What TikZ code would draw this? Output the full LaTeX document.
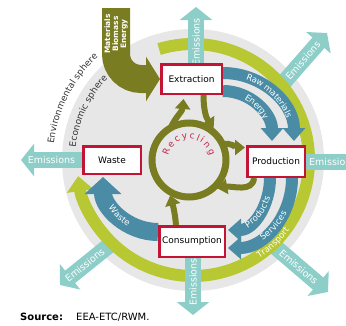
\documentclass[tikz,border=0pt]{standalone}
\usepackage{fontspec}
\setmainfont{DejaVu Sans}
\usetikzlibrary{arrows.meta,calc,backgrounds,decorations.text}

\definecolor{spheregrey}{RGB}{231,231,231}
\definecolor{ringlime}{RGB}{184,200,50}
\definecolor{recycleolive}{RGB}{122,124,34}
\definecolor{flowblue}{RGB}{74,140,166}
\definecolor{emissionteal}{RGB}{142,206,201}
\definecolor{stagered}{RGB}{196,20,54}
\definecolor{recyclered}{RGB}{196,40,72}

\newcommand{\bandfont}{\color{white}\fontsize{8.5}{9}\selectfont}
\newcommand{\spherefont}{\color{black!80}\fontsize{9}{10}\selectfont}
\newcommand{\recyclefont}{\color{recyclered}\fontsize{9}{10}\selectfont}

\tikzset{
  stage/.style={draw=stagered, line width=2.5pt, fill=white, inner sep=0pt,
    font=\fontsize{9}{10}\selectfont},
  emission/.style={draw=emissionteal, line width=16pt,
    -{Triangle[width=32pt,length=13pt]}},
  emlabel/.style={text=white, inner sep=0pt, font=\fontsize{9.5}{10}\selectfont},
  flow/.style={draw=flowblue, line width=12pt,
    -{Triangle[width=22pt,length=13pt]}},
  wasteflow/.style={flow, line width=18pt,
    -{Triangle[width=36pt,length=17pt]}},
  recycle/.style={draw=recycleolive, line width=6pt,
    -{Triangle[width=15pt,length=10pt]}},
  inflow/.style={draw=recycleolive, line width=28pt, rounded corners=25pt,
    -{Triangle[width=44pt,length=14pt]}},
  transport/.style={draw=ringlime, line width=12pt,
    -{Triangle[width=26pt,length=15pt]}},
  bandlabel/.style={decorate, decoration={text along path, text align=center,
    raise=-3pt, text={|\bandfont|#1}}},
  spherelabel/.style={decorate, decoration={text along path, text align=center,
    text={|\spherefont|#1}}},
}

\begin{document}
\begin{tikzpicture}[x=1pt, y=1pt]

  \useasboundingbox (0,0) rectangle (346,325);

  % Centres
  \coordinate (hub) at (193,165);
  \coordinate (rec) at (189,165);

  % Stages
  \node[stage, minimum width=60.5pt, minimum height=29.5pt] (extraction)  at (191.5,246) {Extraction};
  \node[stage, minimum width=57.5pt, minimum height=30.5pt] (production)  at (276,163.5) {Production};
  \node[stage, minimum width=65.5pt, minimum height=30.5pt] (consumption) at (192,83.5)  {Consumption};
  \node[stage, minimum width=57.5pt, minimum height=27.5pt] (waste)       at (112,165)   {Waste};

  % Free ends
  \coordinate (em-n)   at (196,318);
  \coordinate (em-ne)  at (327,292);
  \coordinate (em-e)   at (365,163.5);
  \coordinate (em-se)  at (328,33);
  \coordinate (em-s)   at (193,10);
  \coordinate (em-sw)  at (60,40);
  \coordinate (em-w)   at (21,165);
  \coordinate (in-top) at (116,317);

  \begin{scope}[on background layer]
    % Spheres
    \fill[spheregrey] (hub) circle[radius=131];

    % Emissions leaving the ring
    \draw[emission] ($(hub)+(40:112)$) -- node[emlabel, sloped] {Emissions} (em-ne); %
    \draw[emission] ($(hub)+(-47:112)$) -- node[emlabel, sloped] {Emissions} (em-se); %
    \draw[emission] ($(hub)+(-134:112)$) -- node[emlabel, sloped, pos=0.55] {Emissions} (em-sw); %

    % Transport ring
    \draw[transport] ($(hub)+(107:116)$) arc[start angle=107, end angle=-172, radius=116];
    \path[bandlabel=Transport] ($(hub)+(-62:116)$) arc[start angle=-62, end angle=-30, radius=116];

    % Emissions leaving the stages
    \draw[emission] (extraction.north -| em-n) -- node[emlabel, rotate=90, pos=0.38] {Emissions} (em-n); %
    \draw[emission] (consumption.south -| em-s) -- node[emlabel, rotate=90, pos=0.42] {Emissions} (em-s); %
    \draw[emission] (waste.west) -- node[emlabel, pos=0.5] {Emissions} (em-w); %
    \draw[emission] (production.east) -- (em-e); %
    \node[emlabel, anchor=west] at ($(production.east)+(3,0)$) {Emissions};

    % Input
    \draw[inflow] (in-top) |- (extraction.west);
    \node[text=white, rotate=90, align=center, inner sep=0pt,
      font=\fontsize{7.5}{8}\selectfont\bfseries] at (116,291)
      {Materials\\Biomass\\Energy};

    % Flows between stages
    \draw[flow] ([yshift=6pt]extraction.east) to[out=0, in=90] ($(production.north)+(18,4)$); %
    \draw[flow] ([yshift=-12pt]extraction.east) to[out=0, in=90] ($(production.north)+(-4,4)$); %
    \draw[flow] ($(production.south)+(-6,0)$) to[out=-90, in=0] ($(consumption.east)+(2,11.5)$); %
    \draw[flow] ($(production.south)+(16,0)$) to[out=-90, in=0] ($(consumption.east)+(2,-6.5)$); %
    \draw[wasteflow] ($(consumption.west)+(0,9.5)$) to[out=180, in=-90] ($(waste.south)+(-9,-2)$); %

    \path[bandlabel=Raw materials] ([yshift=6pt]extraction.east) to[out=0, in=90] ($(production.north)+(18,4)$);
    \path[bandlabel=Energy] ([yshift=-12pt]extraction.east) to[out=0, in=90] ($(production.north)+(-4,4)$);
    \path[bandlabel=Products] ($(consumption.east)+(2,11.5)$) to[out=0, in=-90] ($(production.south)+(-6,0)$);
    \path[bandlabel=Services] ($(consumption.east)+(2,-6.5)$) to[out=0, in=-90] ($(production.south)+(16,0)$);
    \path[bandlabel=Waste] ($(waste.south)+(-9,-2)$) to[out=-90, in=180] ($(consumption.west)+(0,9.5)$);

    % Recycling
    \draw[recycleolive, line width=7pt] (rec) circle[radius=37];
    \draw[recycle] ($(rec)+(120:37)$) to[out=65, in=-95] ($(extraction.south)+(-8,-4)$); %
    \draw[recycle] ($(extraction.south)+(12,0)$) to[out=-90, in=125] ($(rec)+(52:40)$); %
    \draw[recycle] ($(rec)+(25:37)$) to[out=15, in=180] ($(production.west)+(-1,14)$); %
    \draw[recycle] ($(production.south)+(-22,0)$) to[out=-95, in=10] ($(rec)+(-45:40)$); %
    \draw[recycle] ($(consumption.north)+(-16,0)$) to[out=95, in=-75] ($(rec)+(-118:40)$); %
  \end{scope}

  % Labels
  \path[decorate, decoration={text along path, text align={fit to path},
    text={|\recyclefont|Recycling}}]
    ($(rec)+(168:21)$) arc[start angle=168, end angle=12, radius=21];
  \path[spherelabel=Environmental sphere] ($(hub)+(178:140)$) arc[start angle=178, end angle=128, radius=140];
  \path[spherelabel=Economic sphere] ($(hub)+(180:118)$) arc[start angle=180, end angle=130, radius=118];

  % Source
  \node[anchor=west, inner sep=0pt, font=\fontsize{10}{11}\selectfont\bfseries] (source) at (20,8) {Source:};
  \node[anchor=west, inner sep=0pt, font=\fontsize{10}{11}\selectfont] (origin) at (76,8) {EEA-ETC/RWM.};

\end{tikzpicture}
\end{document}
